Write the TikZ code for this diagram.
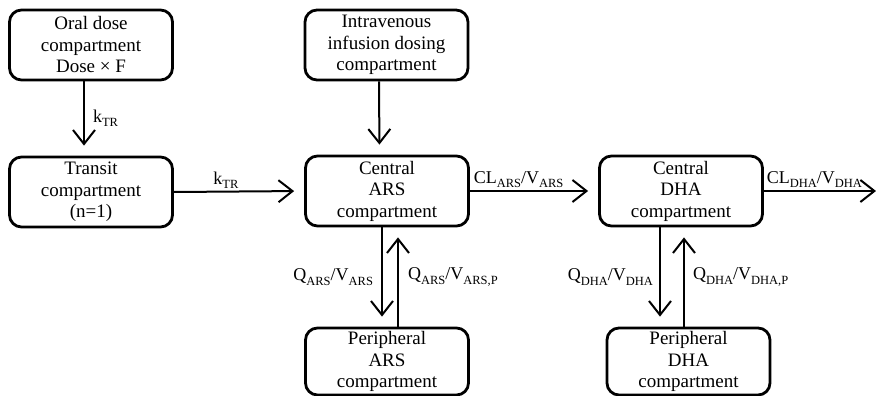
\documentclass[tikz,border=0pt]{standalone}
\usepackage{fontspec}
\setmainfont{Liberation Serif}
\usetikzlibrary{arrows.meta}
\newcommand{\lowsub}[1]{\raisebox{-4.5pt}{\fontsize{12.5}{12}\selectfont #1}}

\begin{document}
\begin{tikzpicture}[
  x=1pt, y=-1pt,
  every node/.style={font=\fontsize{18}{21.5}\selectfont, inner sep=2pt},
  comp/.style={draw, rounded corners=12pt, line width=2.8pt, minimum width=163pt, minimum height=70pt, align=center, inner sep=1pt, font=\fontsize{19}{21.5}\selectfont},
  arr/.style={-{Straight Barb[length=14pt,width=22pt]}, line width=2pt, shorten >=10pt},
]
\useasboundingbox (0,0) rectangle (876,396);
\node[comp] (oral)    at (91, 45)    {Oral dose\\compartment\\Dose \texttimes{} F};
\node[comp] (transit) at (91, 192)   {Transit\\compartment\\(n=1)};
\node[comp] (iv)      at (386.5, 45) {Intravenous\\infusion dosing\\compartment};
\node[comp] (cars)    at (387, 191)  {Central\\ARS\\compartment};
\node[comp] (cdha)    at (681, 191)  {Central\\DHA\\compartment};
\node[comp, minimum height=67pt] (pars) at (387, 361.5)   {Peripheral\\ARS\\compartment};
\node[comp, minimum height=67pt] (pdha) at (688.5, 361.5) {Peripheral\\DHA\\compartment};
\coordinate (out) at (876, 191);
\draw[arr] ([xshift=-7pt]oral.south) -- node[right=6pt]{k\lowsub{TR}} ([xshift=-7pt]transit.north);
\draw[arr] ([xshift=-7.5pt]iv.south) -- ([xshift=-7.5pt]cars.north);
\draw[arr] (transit.east) -- node[above, pos=0.4]{k\lowsub{TR}} (cars.west);
\draw[arr] (cars.east) -- node[above, pos=0.38]{CL\lowsub{ARS}/V\lowsub{ARS}} (cdha.west);
\draw[arr, shorten >=0pt] (cdha.east) -- node[above, pos=0.45]{CL\lowsub{DHA}/V\lowsub{DHA}} (out);
\draw[arr] ([xshift=-5pt]cars.south) -- node[left=6pt]{Q\lowsub{ARS}/V\lowsub{ARS}} ([xshift=-5pt]pars.north);
\draw[arr] ([xshift=11pt]pars.north) -- node[right=7pt]{Q\lowsub{ARS}/V\lowsub{ARS,P}} ([xshift=11pt]cars.south);
\draw[arr] ([xshift=-21pt]cdha.south) -- node[left=4pt]{Q\lowsub{DHA}/V\lowsub{DHA}} ([xshift=-28.5pt]pdha.north);
\draw[arr] ([xshift=-4.5pt]pdha.north) -- node[right=6pt]{Q\lowsub{DHA}/V\lowsub{DHA,P}} ([xshift=3pt]cdha.south);
\end{tikzpicture}
\end{document}
